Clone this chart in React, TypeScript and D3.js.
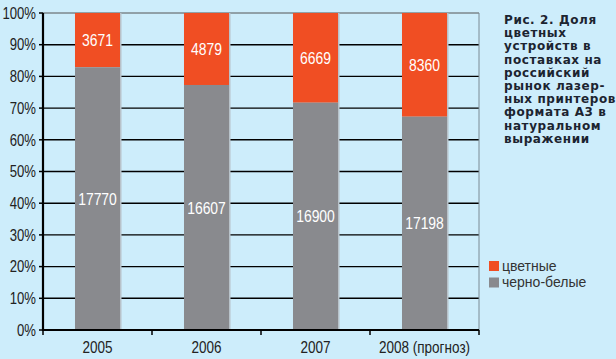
import React from "react"
import * as d3 from "d3"

const years = ["2005", "2006", "2007", "2008 (прогноз)"]
const colorUnits = [3671, 4879, 6669, 8360]
const bwUnits = [17770, 16607, 16900, 17198]
const yTicks = [0, 10, 20, 30, 40, 50, 60, 70, 80, 90, 100]
const titleLines = [
    "Рис. 2. Доля",
    "цветных",
    "устройств в",
    "поставках на",
    "российский",
    "рынок лазер-",
    "ных принтеров",
    "формата А3 в",
    "натуральном",
    "выражении",
]
const legendItems = [
    { label: "цветные", color: "#f04e23" },
    { label: "черно-белые", color: "#898a8e" },
]

const W = 616
const H = 359
const left = 43
const right = 479
const top = 13
const bottom = 330
const sans = "'Liberation Sans', Arial, sans-serif"

// condensed text: Liberation Sans squeezed horizontally
function Narrow({ x, y, anchor = "middle", size, fill, children }: any) {
    return (
        <text transform={`translate(${x},${y}) scale(0.82,1)`} dy="0.36em" textAnchor={anchor}
            fontSize={size} fontFamily={sans} fill={fill}>{children}</text>
    )
}

export default function App() {
    const x = d3.scaleBand().domain(years).range([left, right]).paddingInner(0.587).paddingOuter(0.2935)
    const y = d3.scaleLinear().domain([0, 100]).range([bottom, top])
    const step = (right - left) / years.length

    const bars = years.map((yr, i) => {
        const total = colorUnits[i] + bwUnits[i]
        const bwPct = (bwUnits[i] / total) * 100
        return { yr, bwPct, bw: bwUnits[i], col: colorUnits[i] }
    })

    return (
        <svg width={W} height={H} style={{ position: "absolute", left: 0, top: 0 }}>
            <rect x={0} y={0} width={W} height={H} fill="#cdedfb" />
            {/* grid */}
            {yTicks.filter(t => t > 0).map(t => (
                <line key={t} x1={left} x2={right} y1={y(t)} y2={y(t)}
                    stroke={t === 100 ? "#555" : "#000"} strokeWidth={t === 100 ? 1 : 1.4} />
            ))}
            <line x1={right} x2={right} y1={top} y2={bottom} stroke="#7a8a94" strokeWidth={1} />
            {/* bars */}
            {bars.map(b => {
                const bx = x(b.yr)!
                const bw = x.bandwidth()
                return (
                    <g key={b.yr}>
                        <rect x={bx + bw} y={y(100)} width={1.5} height={bottom - y(100)} fill="#b9c3ca" />
                        <rect x={bx} y={y(100)} width={bw} height={y(b.bwPct) - y(100)} fill="#f04e23" />
                        <rect x={bx} y={y(b.bwPct)} width={bw} height={bottom - y(b.bwPct)} fill="#898a8e" />
                        <Narrow x={bx + bw / 2} y={(y(100) + y(b.bwPct)) / 2} size={17} fill="#fff">{b.col}</Narrow>
                        <Narrow x={bx + bw / 2} y={(y(b.bwPct) + bottom) / 2} size={17} fill="#fff">{b.bw}</Narrow>
                    </g>
                )
            })}
            {/* axes */}
            <line x1={left} x2={left} y1={top} y2={bottom + 1} stroke="#000" strokeWidth={2.2} />
            <line x1={left} x2={right} y1={bottom} y2={bottom} stroke="#000" strokeWidth={2} />
            {yTicks.map(t => (
                <g key={t}>
                    <line x1={left - 4} x2={left} y1={y(t)} y2={y(t)} stroke="#000" strokeWidth={1.5} />
                    <Narrow x={36} y={y(t)} anchor="end" size={16} fill="#222">{t}%</Narrow>
                </g>
            ))}
            {d3.range(years.length + 1).map(i => (
                <line key={i} x1={left + i * step} x2={left + i * step} y1={bottom} y2={bottom + 5}
                    stroke="#000" strokeWidth={1.5} />
            ))}
            {years.map(yr => (
                <Narrow key={yr} x={x(yr)! + x.bandwidth() / 2} y={347} size={16.5} fill="#222">{yr}</Narrow>
            ))}
            {/* title */}
            {titleLines.map((l, i) => (
                <text key={i} x={504} y={24 + i * 13.2} fontSize={12} fontWeight="bold" letterSpacing={0.6}
                    fontFamily="'DejaVu Sans', sans-serif" fill="#1c2430">{l}</text>
            ))}
            {/* legend */}
            {legendItems.map((it, i) => (
                <g key={it.label}>
                    <rect x={489} y={261 + i * 16.5} width={10} height={10} fill={it.color} />
                    <text x={502} y={270.5 + i * 16.5} fontSize={14} fontFamily={sans}
                        fill="#333">{it.label}</text>
                </g>
            ))}
        </svg>
    )
}
